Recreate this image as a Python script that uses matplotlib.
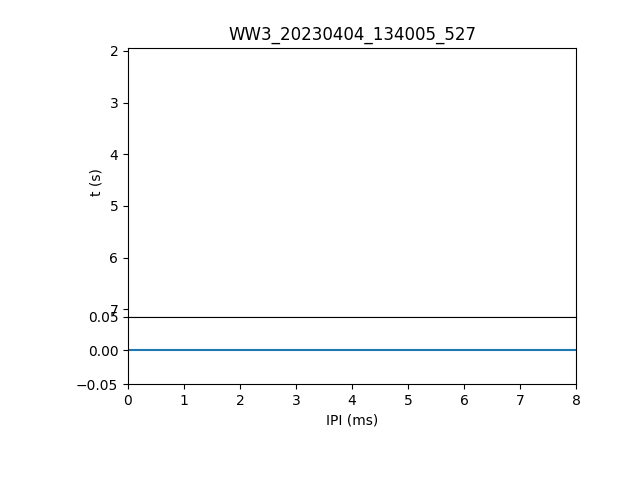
import matplotlib
matplotlib.use("Agg")
import matplotlib.pyplot as plt

title = "WW3_20230404_134005_527"
ipi_ms = [0, 8]
hist_vals = [0, 0]
t_limits = (7.145, 1.945)

fig = plt.figure(figsize=(6.4, 4.8), dpi=100)
ax_top = fig.add_axes([0.2, 0.34, 0.7, 0.56])
ax_bot = fig.add_axes([0.2, 0.2, 0.7, 0.14], sharex=ax_top)

ax_top.set_ylim(*t_limits)
ax_top.set_ylabel("t (s)")
ax_top.set_title(title)
ax_top.tick_params(axis="x", bottom=False, labelbottom=False)

ax_bot.plot(ipi_ms, hist_vals, color="#1f77b4")
ax_bot.set_xlim(0, 8)
ax_bot.set_ylim(-0.05, 0.05)
ax_bot.set_xlabel("IPI (ms)")

fig.savefig("out.png", dpi=100)
